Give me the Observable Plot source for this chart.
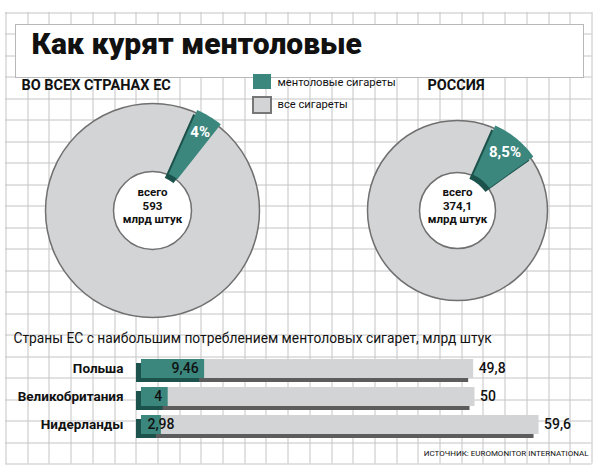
<!DOCTYPE html>
<html><head><meta charset="utf-8">
<script src="https://cdn.jsdelivr.net/npm/d3@7"></script>
<script src="https://cdn.jsdelivr.net/npm/@observablehq/plot@0.6"></script>
<style>
body{margin:0;background:#fff;}
#chart{position:relative;width:600px;height:474px;overflow:hidden;background:#fff;}
#chart svg{position:absolute;left:0;top:0;background:transparent;}
</style></head><body><div id="chart"></div>
<script>
// ---- data ----
const title = "Как курят ментоловые";
const donutRegions = ["ВО ВСЕХ СТРАНАХ ЕС", "РОССИЯ"];
const mentholSharePct = [4, 8.5];
const totalCigarettesBn = [593, 374.1];
const legendLabels = ["ментоловые сигареты", "все сигареты"];
const barTitle = "Страны ЕС с наибольшим потреблением ментоловых сигарет, млрд штук";
const countries = ["Польша", "Великобритания", "Нидерланды"];
const mentholBn = [9.46, 4, 2.98];
const totalBn = [49.8, 50, 59.6];
const sourceText = "ИСТОЧНИК: EUROMONITOR INTERNATIONAL";

// ---- style / layout ----
const TEAL = "#3b877e", TEAL_DARK = "#1c524c", GREY = "#d3d4d6", GREY_DARK = "#5c5c5c",
      RING_STROKE = "#707070", GRID = "#c4c4c4", INK = "#111";
const FONT = "Roboto, 'DejaVu Sans', sans-serif";
const W = 600, H = 474;
const donutLayout = [
  {cx: 152, cy: 210, R: 107, r: 39, headX: 21},
  {cx: 457, cy: 210, R: 90, r: 38, headX: 427}
];
const START_DEG = 24;
const fmt = v => v.toLocaleString("ru-RU");

const chart = document.getElementById("chart");
const pxScales = {
  x: {type: "linear", domain: [0, W], range: [0, W], axis: null},
  y: {type: "linear", domain: [0, H], range: [0, H], axis: null}
};
const base = {width: W, height: H, margin: 0, style: {fontFamily: FONT, background: "transparent", color: INK}};

// ---- background layer: grid, title, headings, legend, source ----
const gx = d3.range(28).map(i => Math.round(5 + i * 586 / 27) + 0.5);
const gy = d3.range(22).map(i => Math.round(12 + i * 451 / 21) + 0.5);
const legend = legendLabels.map((label, i) => ({label, i}));

chart.append(Plot.plot({
  ...base, ...pxScales,
  marks: [
    Plot.ruleX(gx, {x: d => d, y1: 12, y2: 463.5, stroke: GRID, strokeWidth: 1}),
    Plot.ruleY(gy, {y: d => d, x1: 5, x2: 591.5, stroke: GRID, strokeWidth: 1}),
    Plot.rect([title], {x1: 15.5, x2: 583.5, y1: 24.5, y2: 77.5, fill: "white", stroke: "#b8b8b8", strokeWidth: 1}),
    Plot.text([title], {x: 31, y: 43.5, text: d => d, textAnchor: "start", fontSize: 30, fontWeight: 900, fill: INK}),
    Plot.text(donutRegions, {x: (d, i) => donutLayout[i].headX, y: 85, text: d => d, textAnchor: "start", fontSize: 14.5, fontWeight: "bold", fill: INK}),
    Plot.rect(legend, {x1: 253, x2: 271, y1: d => d.i ? 97 : 74, y2: d => d.i ? 113 : 89,
      fill: d => d.i ? GREY : TEAL, stroke: d => d.i ? "#777" : "none", strokeWidth: 2}),
    Plot.text(legend, {x: 277, y: d => d.i ? 104 : 82, text: "label", textAnchor: "start", fontSize: 11.2, fill: INK}),
    Plot.text([barTitle], {x: 13, y: 338, text: d => d, textAnchor: "start", fontSize: 13.8, fill: INK}),
    Plot.text([sourceText], {x: 588, y: 453, text: d => d, textAnchor: "end", fontSize: 8, fill: INK})
  ]
}));

// ---- donut layer ----
const donuts = donutRegions.map((region, i) => ({
  region, share: mentholSharePct[i], total: totalCigarettesBn[i], ...donutLayout[i]
}));
const rad = a => a * Math.PI / 180;
const slicePoints = donuts.flatMap(d => {
  const a0 = rad(START_DEG), a1 = a0 + d.share / 100 * 2 * Math.PI, n = 30;
  const outer = d3.range(n + 1).map(k => a0 + (a1 - a0) * k / n)
    .map(a => ({region: d.region, x: d.cx + (d.R + 3) * Math.sin(a), y: d.cy - (d.R + 3) * Math.cos(a)}));
  const inner = d3.range(n, -1, -1).map(k => a0 + (a1 - a0) * k / n)
    .map(a => ({region: d.region, x: d.cx + (d.r + 1) * Math.sin(a), y: d.cy - (d.r + 1) * Math.cos(a)}));
  return outer.concat(inner);
});
const mid = d => rad(START_DEG) + d.share / 100 * Math.PI;

chart.append(Plot.plot({
  ...base, ...pxScales,
  marks: [
    ...donuts.map(d => Plot.dot([d], {x: "cx", y: "cy", r: d.R, fill: GREY, stroke: RING_STROKE, strokeWidth: 1.5})),
    ...donuts.map(d => Plot.dot([d], {x: "cx", y: "cy", r: d.r, fill: "white", stroke: RING_STROKE, strokeWidth: 1.5})),
    Plot.line(slicePoints, {x: "x", y: "y", z: "region", fill: TEAL_DARK, stroke: "none", curve: "linear-closed", dx: -4, dy: 4}),
    Plot.line(slicePoints, {x: "x", y: "y", z: "region", fill: TEAL, stroke: "none", curve: "linear-closed"}),
    Plot.text(donuts, {x: d => d.cx + (d.R - 15) * Math.sin(mid(d)), y: d => d.cy - (d.R - 15) * Math.cos(mid(d)),
      text: d => fmt(d.share) + "%", fill: "white", fontWeight: "bold", fontSize: 15}),
    Plot.text(donuts, {x: "cx", y: d => d.cy - 5, text: d => `всего\n${fmt(d.total)}\nмлрд штук`,
      lineAnchor: "middle", lineHeight: 1.17, fontSize: 11.5, fontWeight: "bold", fill: INK})
  ]
}));

// ---- bar layer ----
const rows = countries.map((country, i) => ({country, menthol: mentholBn[i], total: totalBn[i]}));
chart.append(Plot.plot({
  ...base,
  x: {domain: [0, 60], range: [141, 141 + 60 * 6.67], axis: null},
  y: {domain: countries, range: [353.25, 438.75], paddingInner: 1 / 3, paddingOuter: 1 / 6, axis: null},
  marks: [
    Plot.barX(rows, {x1: 0, x2: "total", y: "country", fill: GREY_DARK, dx: -5, dy: 4}),
    Plot.barX(rows, {x1: 0, x2: "menthol", y: "country", fill: TEAL_DARK, dx: -5, dy: 4}),
    Plot.barX(rows, {x1: 0, x2: "total", y: "country", fill: GREY}),
    Plot.barX(rows, {x1: 0, x2: "menthol", y: "country", fill: TEAL}),
    Plot.text(rows, {x: 0, y: "country", text: "country", textAnchor: "end", dx: -18, fontSize: 13.5, fontWeight: "bold", fill: INK}),
    Plot.text(rows.filter(d => d.menthol >= 3.5), {x: "menthol", y: "country", text: d => fmt(d.menthol), textAnchor: "end", dx: -6, fontSize: 14, fontWeight: 500, fill: INK}),
    Plot.text(rows.filter(d => d.menthol < 3.5), {x: 0, y: "country", text: d => fmt(d.menthol), textAnchor: "start", dx: 6, fontSize: 14, fontWeight: 500, fill: INK}),
    Plot.text(rows, {x: "total", y: "country", text: d => fmt(d.total), textAnchor: "start", dx: 5, fontSize: 14, fontWeight: 500, fill: INK})
  ]
}));
</script></body></html>
